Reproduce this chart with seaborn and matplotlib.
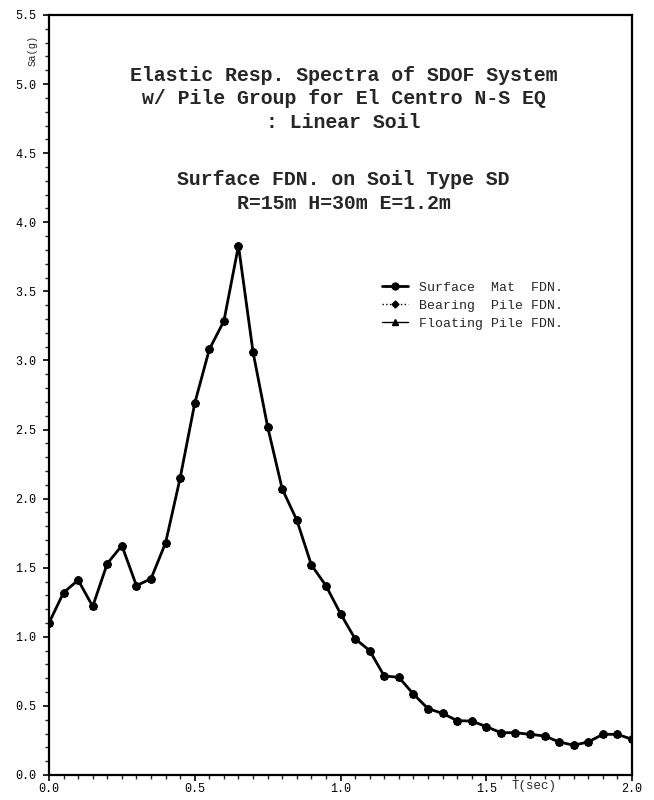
import numpy as np
import pandas as pd
import matplotlib
matplotlib.use("Agg")
import matplotlib.pyplot as plt
from matplotlib.ticker import MultipleLocator, FormatStrFormatter
from matplotlib.lines import Line2D
import seaborn as sns

# Natural period T (sec)
period = [0.00, 0.05, 0.10, 0.15, 0.20, 0.25, 0.30, 0.35, 0.40, 0.45,
          0.50, 0.55, 0.60, 0.65, 0.70, 0.75, 0.80, 0.85, 0.90, 0.95,
          1.00, 1.05, 1.10, 1.15, 1.20, 1.25, 1.30, 1.35, 1.40, 1.45,
          1.50, 1.55, 1.60, 1.65, 1.70, 1.75, 1.80, 1.85, 1.90, 1.95, 2.00]

# Spectral acceleration Sa (g), surface mat foundation
sa_surface = [1.10, 1.32, 1.41, 1.22, 1.53, 1.66, 1.37, 1.42, 1.68, 2.15,
              2.69, 3.08, 3.285, 3.83, 3.06, 2.52, 2.07, 1.845, 1.52, 1.37,
              1.167, 0.986, 0.90, 0.716, 0.707, 0.586, 0.48, 0.446, 0.393, 0.39,
              0.35, 0.306, 0.306, 0.294, 0.282, 0.239, 0.215, 0.239, 0.294, 0.294, 0.258]
# Bearing and floating pile foundations give the same spectrum for linear soil
sa_bearing = list(sa_surface)
sa_floating = list(sa_surface)

series_names = ["Surface  Mat  FDN.", "Bearing  Pile FDN.", "Floating Pile FDN."]

title_lines = ["Elastic Resp. Spectra of SDOF System",
               "w/ Pile Group for El Centro N-S EQ",
               ": Linear Soil"]
subtitle_lines = ["Surface FDN. on Soil Type SD",
                  "R=15m H=30m E=1.2m"]

sns.set_style("ticks")
plt.rcParams["font.family"] = ["Liberation Mono", "DejaVu Sans Mono"]

fig = plt.figure(figsize=(6.54, 8.0), dpi=100)
ax = fig.add_axes([0.0749, 0.0313, 0.8915, 0.9500])

styles = [
    dict(y=sa_floating, marker="^", linestyle="-", lw=1.0, ms=5),
    dict(y=sa_bearing, marker="D", linestyle=":", lw=1.0, ms=4),
    dict(y=sa_surface, marker="o", linestyle="-", lw=2.0, ms=5.5),
]
for st in styles:
    sns.lineplot(x=period, y=st["y"], ax=ax, color="black",
                 marker=st["marker"], linestyle=st["linestyle"],
                 linewidth=st["lw"], markersize=st["ms"],
                 markeredgecolor="black", markerfacecolor="black",
                 legend=False)

ax.set_xlim(0, 2.0)
ax.set_ylim(0, 5.5)
ax.xaxis.set_major_locator(MultipleLocator(0.5))
ax.xaxis.set_minor_locator(MultipleLocator(0.05))
ax.yaxis.set_major_locator(MultipleLocator(0.5))
ax.yaxis.set_minor_locator(MultipleLocator(0.1))
ax.xaxis.set_major_formatter(FormatStrFormatter("%.1f"))
ax.yaxis.set_major_formatter(FormatStrFormatter("%.1f"))
ax.tick_params(which="major", direction="out", length=4, width=1.2,
               labelsize=8.5, colors="black")
ax.tick_params(which="minor", direction="out", length=3, width=1.0)
ax.tick_params(axis="x", which="major", pad=1.5)
ax.tick_params(axis="y", which="major", pad=5)
for sp in ax.spines.values():
    sp.set_visible(True)
    sp.set_linewidth(1.6)
    sp.set_color("black")
ax.set_xlabel("")
ax.set_ylabel("")

# Axis titles
ax.text(-0.028, 0.954, "Sa(g)", transform=ax.transAxes, rotation=90,
        ha="center", va="center", fontsize=7.5)
ax.text(0.832, -0.0145, "T(sec)", transform=ax.transAxes,
        ha="center", va="center", fontsize=9)

# Title block
title_y = [0.920, 0.890, 0.859]
for line, yy in zip(title_lines, title_y):
    ax.text(0.505, yy, line, transform=ax.transAxes, ha="center", va="center",
            fontsize=14.3, fontweight="bold")
sub_y = [0.784, 0.752]
for line, yy in zip(subtitle_lines, sub_y):
    ax.text(0.505, yy, line, transform=ax.transAxes, ha="center", va="center",
            fontsize=14.3, fontweight="bold")

handles = [
    Line2D([], [], color="black", lw=2.0, marker="o", ms=5),
    Line2D([], [], color="black", lw=1.0, linestyle=":", marker="D", ms=3.5),
    Line2D([], [], color="black", lw=1.0, marker="^", ms=4.5),
]
ax.legend(handles, series_names, loc="upper left", bbox_to_anchor=(0.56, 0.658),
          frameon=False, fontsize=9.5, handlelength=2.0, handletextpad=0.8,
          labelspacing=0.45, borderpad=0)

fig.savefig("out.png", dpi=100, facecolor="white")
